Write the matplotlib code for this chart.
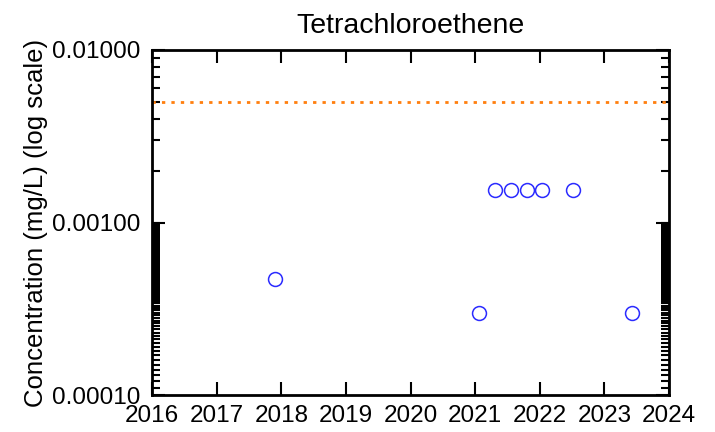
import numpy as np
import matplotlib
matplotlib.use('Agg')
import matplotlib.pyplot as plt
from matplotlib.ticker import FixedLocator, NullFormatter

# sample dates (decimal years) and concentrations, mg/L
dates = [2017.90, 2021.06, 2021.31, 2021.56, 2021.80, 2022.04, 2022.52, 2023.43]
conc = [0.00047, 0.00030, 0.00155, 0.00155, 0.00155, 0.00155, 0.00155, 0.00030]
limit = 0.005
years = list(range(2016, 2025))
ymajor = [0.0001, 0.001, 0.01]

plt.rcParams['font.family'] = ['Liberation Sans', 'DejaVu Sans']

fig = plt.figure(figsize=(7.15, 4.32), dpi=100)
ax = fig.add_axes([152 / 715, 1 - 395 / 432, 517 / 715, 345 / 432])

ax.axhline(limit, color='#ff7f0e', linestyle=(0, (1.2, 2.2)), linewidth=2)
ax.plot(dates, conc, linestyle='none', marker='o', markersize=10,
        markerfacecolor='none', markeredgecolor='#2b2bff', markeredgewidth=1.1)

ax.set_yscale('log')
ax.set_xlim(2016, 2024)
ax.set_ylim(0.0001, 0.01)
ax.set_xticks(years)
ax.set_xticklabels([str(y) for y in years])
ax.set_yticks(ymajor)
ax.set_yticklabels(['0.00010', '0.00100', '0.01000'])
# dense minor ticks in lower decade, normal ones in the upper
minor = [k * 1e-5 for k in range(11, 100)] + [k * 1e-3 for k in range(2, 10)]
ax.yaxis.set_minor_locator(FixedLocator(minor))
ax.yaxis.set_minor_formatter(NullFormatter())

ax.tick_params(axis='both', which='major', direction='in', length=9.5, width=1.5,
               top=True, right=True, labelsize=17.5)
ax.tick_params(axis='x', which='major', pad=7)
ax.tick_params(axis='y', which='major', pad=8.5)
ax.tick_params(axis='y', which='minor', direction='in', length=5.5, width=1.5,
               left=True, right=True)
ax.tick_params(axis='x', which='minor', bottom=False, top=False)
for s in ax.spines.values():
    s.set_linewidth(2)

ax.set_title('Tetrachloroethene', fontsize=20.5, pad=12)
ax.set_ylabel('Concentration (mg/L) (log scale)', fontsize=18.5, labelpad=3)

fig.savefig('out.png', dpi=100)
